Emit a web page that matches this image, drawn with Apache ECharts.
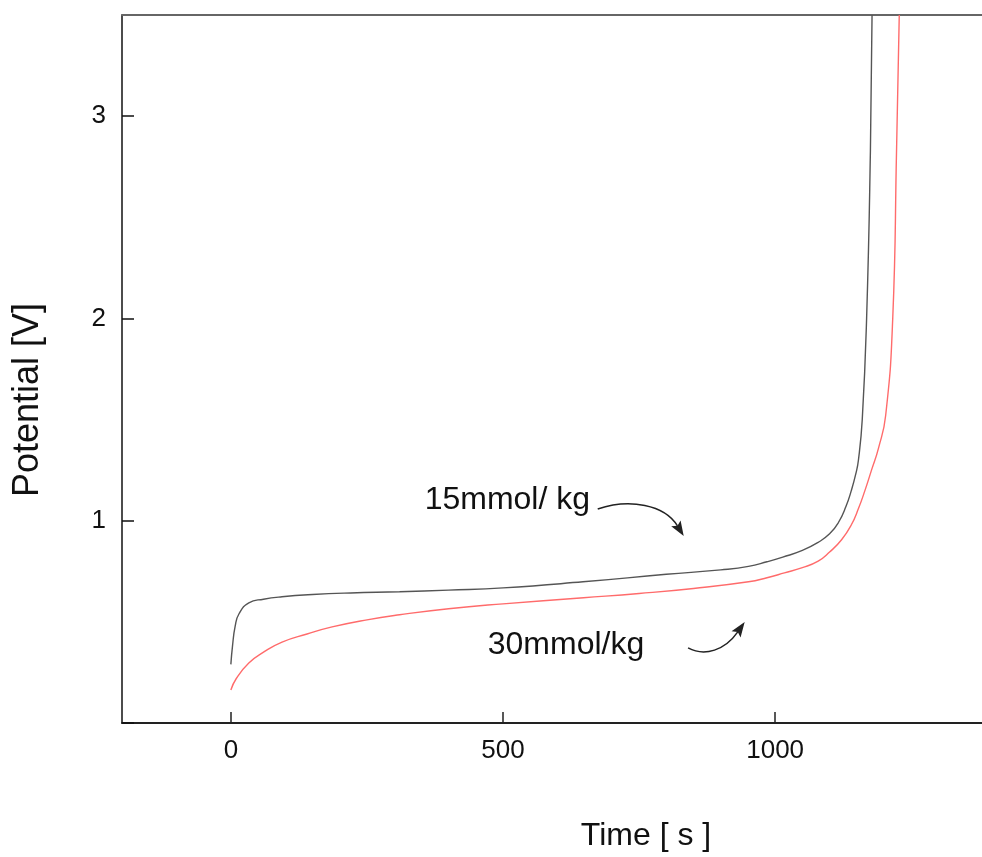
<!DOCTYPE html>
<html>
<head>
<meta charset="utf-8">
<script src="https://cdn.jsdelivr.net/npm/echarts@6/dist/echarts.min.js"></script>
<style>
html,body{margin:0;padding:0;background:#fff;}
#chart{width:982px;height:857px;}
</style>
</head>
<body>
<div id="chart"></div>
<script>
// ---- data ----
const timeBlack = [0, 3, 8, 15, 33, 60, 94, 150, 220, 310, 400, 500, 647, 800, 900, 951, 985, 1014, 1050, 1079, 1100, 1116, 1130, 1140, 1148, 1153, 1160, 1168, 1175, 1178];
const potBlack  = [0.29, 0.38, 0.48, 0.54, 0.594, 0.612, 0.624, 0.635, 0.643, 0.649, 0.657, 0.668, 0.698, 0.735, 0.757, 0.774, 0.797, 0.82, 0.853, 0.893, 0.935, 0.99, 1.07, 1.15, 1.23, 1.30, 1.5, 2.0, 2.83, 3.5];
const timeRed = [0, 10, 33, 60, 94, 140, 186, 250, 310, 400, 500, 648, 750, 850, 951, 985, 1017, 1050, 1079, 1100, 1122, 1140, 1153, 1165, 1177, 1190, 1203, 1216, 1223, 1228];
const potRed  = [0.163, 0.22, 0.297, 0.35, 0.40, 0.44, 0.475, 0.51, 0.535, 0.565, 0.589, 0.619, 0.64, 0.665, 0.698, 0.718, 0.742, 0.768, 0.80, 0.845, 0.906, 0.98, 1.06, 1.15, 1.25, 1.36, 1.52, 2.0, 2.83, 3.5];
const seriesNames = ['15mmol/ kg', '30mmol/kg'];
const xTicks = [0, 500, 1000];
const yTicks = [0, 1, 2, 3];
const yLabels = [1, 2, 3];
const xTitle = 'Time [ s ]';
const yTitle = 'Potential [V]';

const FONT = '"Liberation Sans", Arial, Helvetica, sans-serif';
const pairs = (xs, ys) => xs.map((x, i) => [x, ys[i]]);

const chart = echarts.init(document.getElementById('chart'), null, {renderer: 'canvas'});
chart.setOption({
  animation: false,
  backgroundColor: '#fff',
  grid: {left: 122, right: 0, top: 15, bottom: 134, containLabel: false},
  xAxis: [{
    type: 'value', position: 'bottom', min: -200, max: 1380,
    axisLine: {show: true, onZero: false, lineStyle: {color: '#222', width: 2}},
    axisTick: {show: true, inside: true, length: 11, customValues: xTicks, lineStyle: {color: '#222', width: 1.5}},
    axisLabel: {show: true, customValues: xTicks, margin: 15, color: '#111', fontSize: 26, fontFamily: FONT,
      formatter: v => String(v)},
    splitLine: {show: false}
  }, {
    type: 'value', position: 'top', min: -200, max: 1380,
    axisLine: {show: true, onZero: false, lineStyle: {color: '#666', width: 2}},
    axisTick: {show: false}, axisLabel: {show: false}, splitLine: {show: false}
  }],
  yAxis: {
    type: 'value', min: 0, max: 3.5,
    axisLine: {show: true, onZero: false, lineStyle: {color: '#111', width: 1.5}},
    axisTick: {show: true, inside: true, length: 12, customValues: yTicks, lineStyle: {color: '#111', width: 1.5}},
    axisLabel: {show: true, customValues: yLabels, margin: 16, color: '#111', fontSize: 26, fontFamily: FONT,
      formatter: v => String(v)},
    splitLine: {show: false}
  },
  series: [{
    name: seriesNames[0], type: 'line', data: pairs(timeBlack, potBlack),
    showSymbol: false, smooth: 0.5,
    lineStyle: {color: '#555', width: 1.4}
  }, {
    name: seriesNames[1], type: 'line', data: pairs(timeRed, potRed),
    showSymbol: false, smooth: 0.5,
    lineStyle: {color: '#ff6b6b', width: 1.4}
  }]
});

// annotations, anchored in data coordinates
const P = (x, y) => chart.convertToPixel({gridIndex: 0}, [x, y]);
function arrow(pts) {
  const [s, c1, c2, e] = pts.map(p => P(p[0], p[1]));
  const dx = e[0] - c2[0], dy = e[1] - c2[1];
  const L = Math.hypot(dx, dy), ux = dx / L, uy = dy / L;
  const hl = 15, hw = 5.5;
  const bx = e[0] - ux * hl, by = e[1] - uy * hl;
  return [{
    type: 'bezierCurve',
    shape: {x1: s[0], y1: s[1], cpx1: c1[0], cpy1: c1[1], cpx2: c2[0], cpy2: c2[1], x2: bx + ux * 3, y2: by + uy * 3},
    style: {stroke: '#222', lineWidth: 1.5, fill: null}
  }, {
    type: 'polygon',
    shape: {points: [[e[0], e[1]], [bx - uy * hw, by + ux * hw], [bx + ux * 3, by + uy * 3], [bx + uy * hw, by - ux * hw]]},
    style: {fill: '#222'}
  }];
}
const lbl1 = P(356, 1.10), lbl2 = P(472, 0.386);
chart.setOption({
  graphic: [
    {type: 'text', x: lbl1[0], y: lbl1[1], style: {text: seriesNames[0], font: '32px ' + FONT, fill: '#111', verticalAlign: 'middle', align: 'left'}},
    {type: 'text', x: lbl2[0], y: lbl2[1], style: {text: seriesNames[1], font: '32px ' + FONT, fill: '#111', verticalAlign: 'middle', align: 'left'}},
    ...arrow([[674, 1.058], [733, 1.112], [797, 1.078], [832, 0.924]]),
    ...arrow([[840, 0.371], [871, 0.326], [908, 0.361], [944, 0.499]]),
    {type: 'text', x: 646, y: 836, style: {text: xTitle, font: '32px ' + FONT, fill: '#111', align: 'center', verticalAlign: 'middle'}},
    {type: 'text', x: 28, y: 400, rotation: Math.PI / 2, style: {text: yTitle, font: '36px ' + FONT, fill: '#111', align: 'center', verticalAlign: 'middle'}}
  ]
});
</script>
</body>
</html>
